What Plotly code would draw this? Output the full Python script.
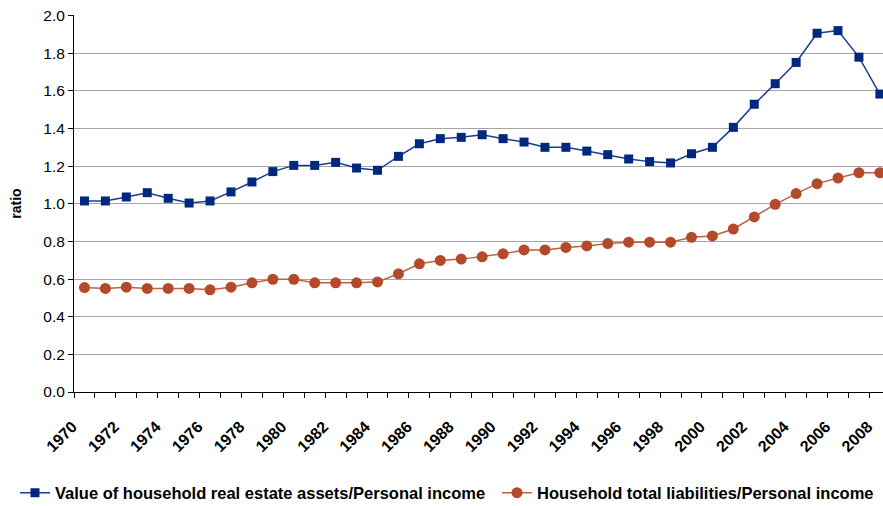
import plotly.graph_objects as go

years = list(range(1970, 2009))

real_estate = [1.015, 1.015, 1.036, 1.059, 1.029, 1.004, 1.015, 1.063, 1.116, 1.171,
               1.204, 1.204, 1.220, 1.190, 1.178, 1.252, 1.319, 1.346, 1.353, 1.367,
               1.346, 1.328, 1.300, 1.300, 1.280, 1.261, 1.238, 1.224, 1.217, 1.266,
               1.300, 1.406, 1.529, 1.638, 1.751, 1.906, 1.920, 1.779, 1.583]

liabilities = [0.555, 0.550, 0.557, 0.550, 0.550, 0.550, 0.543, 0.557, 0.580, 0.599,
               0.599, 0.580, 0.580, 0.580, 0.585, 0.628, 0.681, 0.699, 0.706, 0.718,
               0.734, 0.755, 0.755, 0.768, 0.776, 0.789, 0.796, 0.796, 0.796, 0.822,
               0.829, 0.866, 0.930, 0.997, 1.054, 1.107, 1.137, 1.165, 1.165]

label_years = list(range(1970, 2009, 2))

FONT = "Liberation Sans"
BLUE = "#00287F"
RED = "#B44A2C"

fig = go.Figure()
fig.add_trace(go.Scatter(
    x=years, y=real_estate, mode="lines+markers",
    name="<b>Value of household real estate assets/Personal income</b>",
    line=dict(color="#1C3C8C", width=1.5),
    marker=dict(symbol="square", size=9, color=BLUE),
    legend="legend",
))
fig.add_trace(go.Scatter(
    x=years, y=liabilities, mode="lines+markers",
    name="<b>Household total liabilities/Personal income</b>",
    line=dict(color="#C0603F", width=1.5),
    marker=dict(symbol="circle", size=11, color=RED),
    legend="legend2",
))

W, H = 883, 506
legend_style = dict(orientation="h", xref="container", xanchor="left",
                    yref="container", y=13 / H, yanchor="middle",
                    font=dict(size=16.5), itemwidth=30, bgcolor="rgba(0,0,0,0)")

fig.update_layout(
    width=W, height=H,
    margin=dict(l=74, r=0, t=15, b=114, autoexpand=False),
    plot_bgcolor="white", paper_bgcolor="white",
    font=dict(family=FONT, size=14, color="black"),
    showlegend=True,
    legend=dict(x=15 / W, **legend_style),
    legend2=dict(x=497 / W, **legend_style),
)

fig.update_xaxes(
    range=[1969.5, 2008.15], automargin=False,
    tickvals=label_years, ticktext=[f"<b>{y}</b>" for y in label_years],
    tickangle=-45, ticks="", showgrid=False,
    ticklabelstandoff=18, ticklabelshift=-12,
    showline=True, linecolor="black", linewidth=1,
    tickfont=dict(size=16),
    minor=dict(tick0=1969.5, dtick=1, ticks="outside", ticklen=5,
               tickcolor="black", showgrid=False),
    zeroline=False,
)
fig.update_yaxes(
    range=[0, 2.003], tickvals=[0, 0.2, 0.4, 0.6, 0.8, 1.0, 1.2, 1.4, 1.6, 1.8, 2.0],
    tickformat=".1f", automargin=False, ticklabeloverflow="allow",
    ticks="outside", ticklen=5, tickcolor="black",
    showline=True, linecolor="black", linewidth=1,
    showgrid=True, gridcolor="#A6A6A6", gridwidth=1,
    zeroline=False,
    tickfont=dict(size=15.5, family=FONT),
    title=dict(text="<b>ratio</b>", font=dict(size=14), standoff=18),
    tickprefix="<b>", ticksuffix="</b>",
)

# drop the page's default body margin so the figure fills the window
fig.write_html("out.html", config={"displayModeBar": False},
               post_script="document.body.style.margin = '0';")
